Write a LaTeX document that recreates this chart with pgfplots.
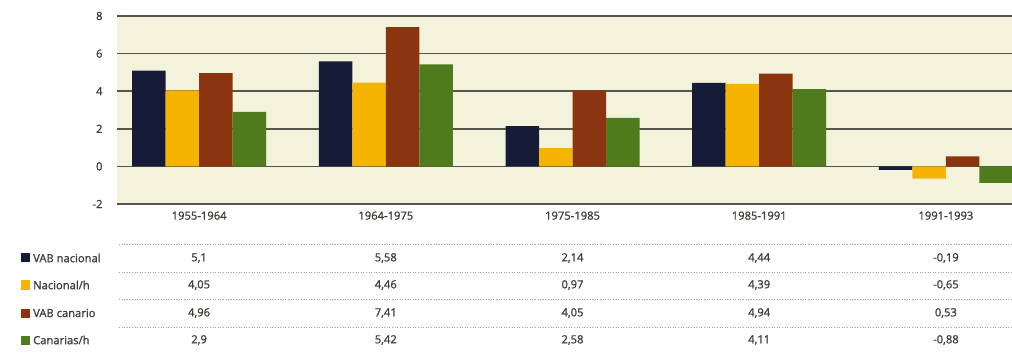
\documentclass[border=0pt]{standalone}
\usepackage{fontspec}
\setmainfont{Open Sans}[FakeBold=1.3,AutoFakeBold=1.3]
\usepackage{pgfplots}
\pgfplotsset{compat=1.18}
\definecolor{bgc}{HTML}{F3F3DB}
\definecolor{gridc}{HTML}{55554A}
\definecolor{navy}{HTML}{161C38}
\definecolor{yel}{HTML}{F6B402}
\definecolor{brn}{HTML}{8A3510}
\definecolor{grn}{HTML}{4F7B1C}
\definecolor{txt}{HTML}{3E3E38}
\newcommand{\legsq}[3]{%
  \fill[#2] (-96pt,#3pt-4.5pt) rectangle (-87pt,#3pt+4.5pt);
  \node[anchor=west] at (-84pt,#3pt) {#1};}
\newcommand{\trow}[6]{%
  \node at (82.1pt,#1pt) {#2};
  \node at (268.8pt,#1pt) {#3};
  \node at (455.5pt,#1pt) {#4};
  \node at (642.2pt,#1pt) {#5};
  \node at (828.9pt,#1pt) {#6};}
\begin{document}
\begin{tikzpicture}[font=\fontsize{11.2}{13}\selectfont]
\useasboundingbox (-117pt,-149pt) rectangle (895pt,204pt);
\begin{axis}[
  at={(0pt,0pt)}, anchor=south west,
  scale only axis, width=895pt, height=188pt,
  xmin=-0.44, xmax=4.354, ymin=-2, ymax=8,
  ytick={-2,0,2,4,6,8},
  xtick={0,1,2,3,4},
  xticklabels={1955-1964,1964-1975,1975-1985,1985-1991,1991-1993},
  axis background/.style={fill=bgc},
  axis line style={draw=none},
  major tick length=0pt,
  ymajorgrids, grid style={gridc, line width=1.7pt},
  ybar=0pt, bar width=33.5pt,
  tick label style={text=txt, font=\fontsize{11.2}{13}\selectfont},
  /pgf/number format/assume math mode=true,
  yticklabel style={xshift=-11pt},
  xticklabel style={yshift=-4pt},
  clip=false,
]
\addplot[fill=navy, draw=none] coordinates {(0,5.1) (1,5.58) (2,2.14) (3,4.44) (4,-0.19)};
\addplot[fill=yel, draw=none] coordinates {(0,4.05) (1,4.46) (2,0.97) (3,4.39) (4,-0.65)};
\addplot[fill=brn, draw=none] coordinates {(0,4.96) (1,7.41) (2,4.05) (3,4.94) (4,0.53)};
\addplot[fill=grn, draw=none] coordinates {(0,2.9) (1,5.42) (2,2.58) (3,4.11) (4,-0.88)};
\end{axis}
\foreach \y in {-40,-68,-95,-123} {
  \draw[gray!75, dotted, line width=0.6pt] (2pt,\y pt) -- (895pt,\y pt);
}
\begin{scope}[every node/.style={text=txt, inner sep=0pt}]
\legsq{VAB nacional}{navy}{-54}
\legsq{Nacional/h}{yel}{-81}
\legsq{VAB canario}{brn}{-109}
\legsq{Canarias/h}{grn}{-136}
\trow{-54}{5,1}{5,58}{2,14}{4,44}{-0,19}
\trow{-81}{4,05}{4,46}{0,97}{4,39}{-0,65}
\trow{-109}{4,96}{7,41}{4,05}{4,94}{0,53}
\trow{-136}{2,9}{5,42}{2,58}{4,11}{-0,88}
\end{scope}
\end{tikzpicture}
\end{document}
